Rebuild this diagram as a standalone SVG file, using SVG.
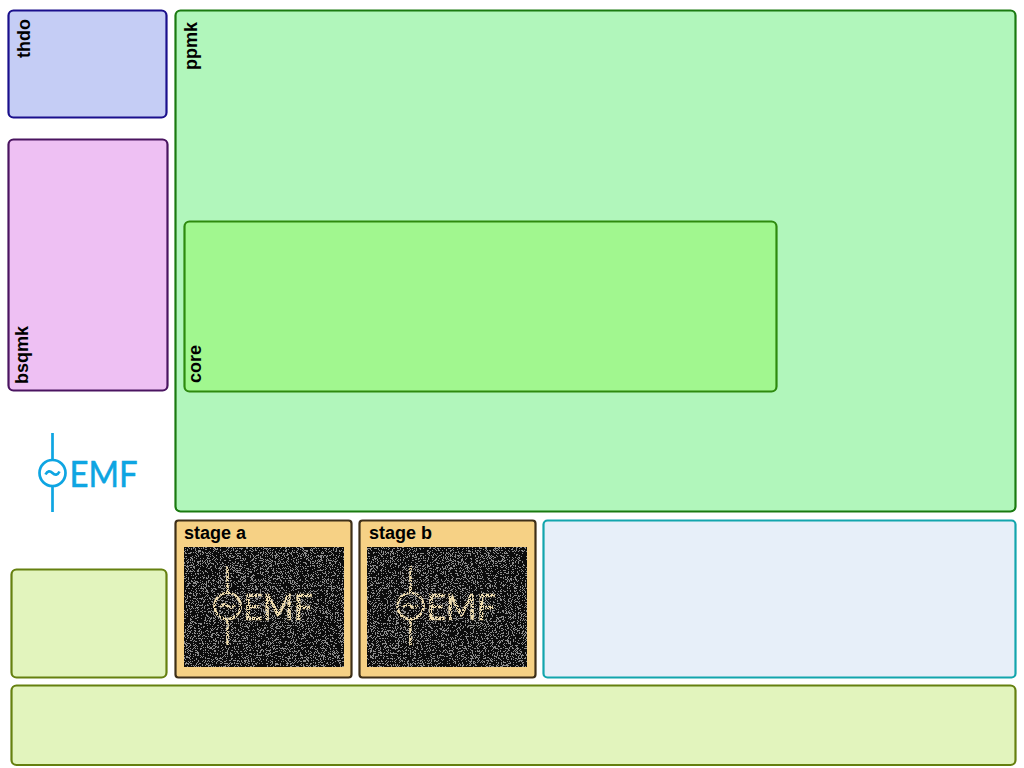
<svg xmlns="http://www.w3.org/2000/svg" width="1024" height="768" viewBox="0 0 1024 768">
<style>
.b{stroke-width:2.2}
.l{font-family:"Liberation Sans",Arial,sans-serif;font-weight:bold;font-size:18px;fill:#000}
.logo{fill:none;stroke-width:2.7}
.lt{font-family:"Lato","Noto Sans",sans-serif;font-size:36px;stroke-width:0.6}
</style>
<defs>
<filter id="noise" x="0" y="0" width="100%" height="100%" color-interpolation-filters="sRGB">
<feTurbulence type="fractalNoise" baseFrequency="1.4" numOctaves="1" seed="4" result="t"/>
<feColorMatrix in="t" type="matrix" values="0 0 0 0 0.55 0 0 0 0 0.55 0 0 0 0 0.55 1.6 1.6 0 0 -1.25"/>
<feComponentTransfer result="n"><feFuncA type="discrete" tableValues="0 1"/></feComponentTransfer>
<feMerge><feMergeNode in="SourceGraphic"/><feMergeNode in="n"/></feMerge>
</filter>
<filter id="spk" x="-5%" y="-5%" width="110%" height="110%" color-interpolation-filters="sRGB">
<feTurbulence type="fractalNoise" baseFrequency="1.3" numOctaves="1" seed="9" result="t"/>
<feColorMatrix in="t" type="matrix" values="0 0 0 0 0 0 0 0 0 0 0 0 0 0 0 3 3 0 0 -2.3"/>
<feComponentTransfer result="m"><feFuncA type="discrete" tableValues="0 1"/></feComponentTransfer>
<feComposite in="SourceGraphic" in2="m" operator="in"/>
</filter>
<g id="mark">
<path d="M0 -40V-13.5M0 13.5V39"/>
<circle r="13"/>
<path d="M-7 1.5C-5 -2.5 -2.5 -2.5 0 0S5 2.5 7 -1.5"/>
</g>
</defs>

<g id="thdo"><rect class="b" x="8.5" y="10.5" width="158" height="107" rx="5" fill="#c5cdf5" stroke="#1a0f8c"/><text class="l" transform="translate(29.5 58) rotate(-90)">thdo</text></g>
<g id="ppmk"><rect class="b" x="175.5" y="10.5" width="840" height="501" rx="5" fill="#b1f6bb" stroke="#1a7a10"/><text class="l" transform="translate(197 70) rotate(-90)">ppmk</text></g>
<g id="bsqmk"><rect class="b" x="8.5" y="139.5" width="159" height="251" rx="5" fill="#eec0f3" stroke="#4a1460"/><text class="l" transform="translate(27.5 384) rotate(-90)">bsqmk</text></g>
<g id="core"><rect class="b" x="184.5" y="221.5" width="592" height="170" rx="5" fill="#a1f78f" stroke="#2e8a0e"/><text class="l" transform="translate(201 383) rotate(-90)">core</text></g>

<g id="logo" stroke="#0ea5e2">
<use href="#mark" x="52.5" y="473" class="logo"/>
<text class="lt" x="69.5" y="487" fill="#0ea5e2" textLength="68" lengthAdjust="spacingAndGlyphs">EMF</text>
</g>

<g id="stage-a"><rect class="b" x="175.5" y="520.5" width="176" height="157" rx="3" fill="#f6d185" stroke="#3e2f18"/><text class="l" x="184" y="539">stage a</text>
<rect x="184" y="547" width="160" height="120" fill="#0c0c0c" filter="url(#noise)"/>
<g filter="url(#spk)" stroke="#efdcae"><use href="#mark" x="227.5" y="606" class="logo"/><text class="lt" x="243.5" y="620" fill="#efdcae" textLength="69" lengthAdjust="spacingAndGlyphs">EMF</text></g></g>

<g id="stage-b"><rect class="b" x="359.5" y="520.5" width="176" height="157" rx="3" fill="#f6d185" stroke="#3e2f18"/><text class="l" x="369" y="539">stage b</text>
<rect x="367" y="547" width="160" height="120" fill="#0c0c0c" filter="url(#noise)"/>
<g filter="url(#spk)" stroke="#efdcae"><use href="#mark" x="410.5" y="606" class="logo"/><text class="lt" x="426.5" y="620" fill="#efdcae" textLength="69" lengthAdjust="spacingAndGlyphs">EMF</text></g></g>

<g id="blue-panel"><rect class="b" x="543.5" y="520.5" width="472" height="157" rx="4" fill="#e7eff9" stroke="#13a5ad"/></g>
<g id="green-small"><rect class="b" x="11.5" y="569.5" width="155" height="108" rx="5" fill="#e2f4bd" stroke="#65800f"/></g>
<g id="green-bottom"><rect class="b" x="11.5" y="685.5" width="1004" height="79.5" rx="5" fill="#e2f4bd" stroke="#65800f"/></g>
<g id="connectors"/>
</svg>
